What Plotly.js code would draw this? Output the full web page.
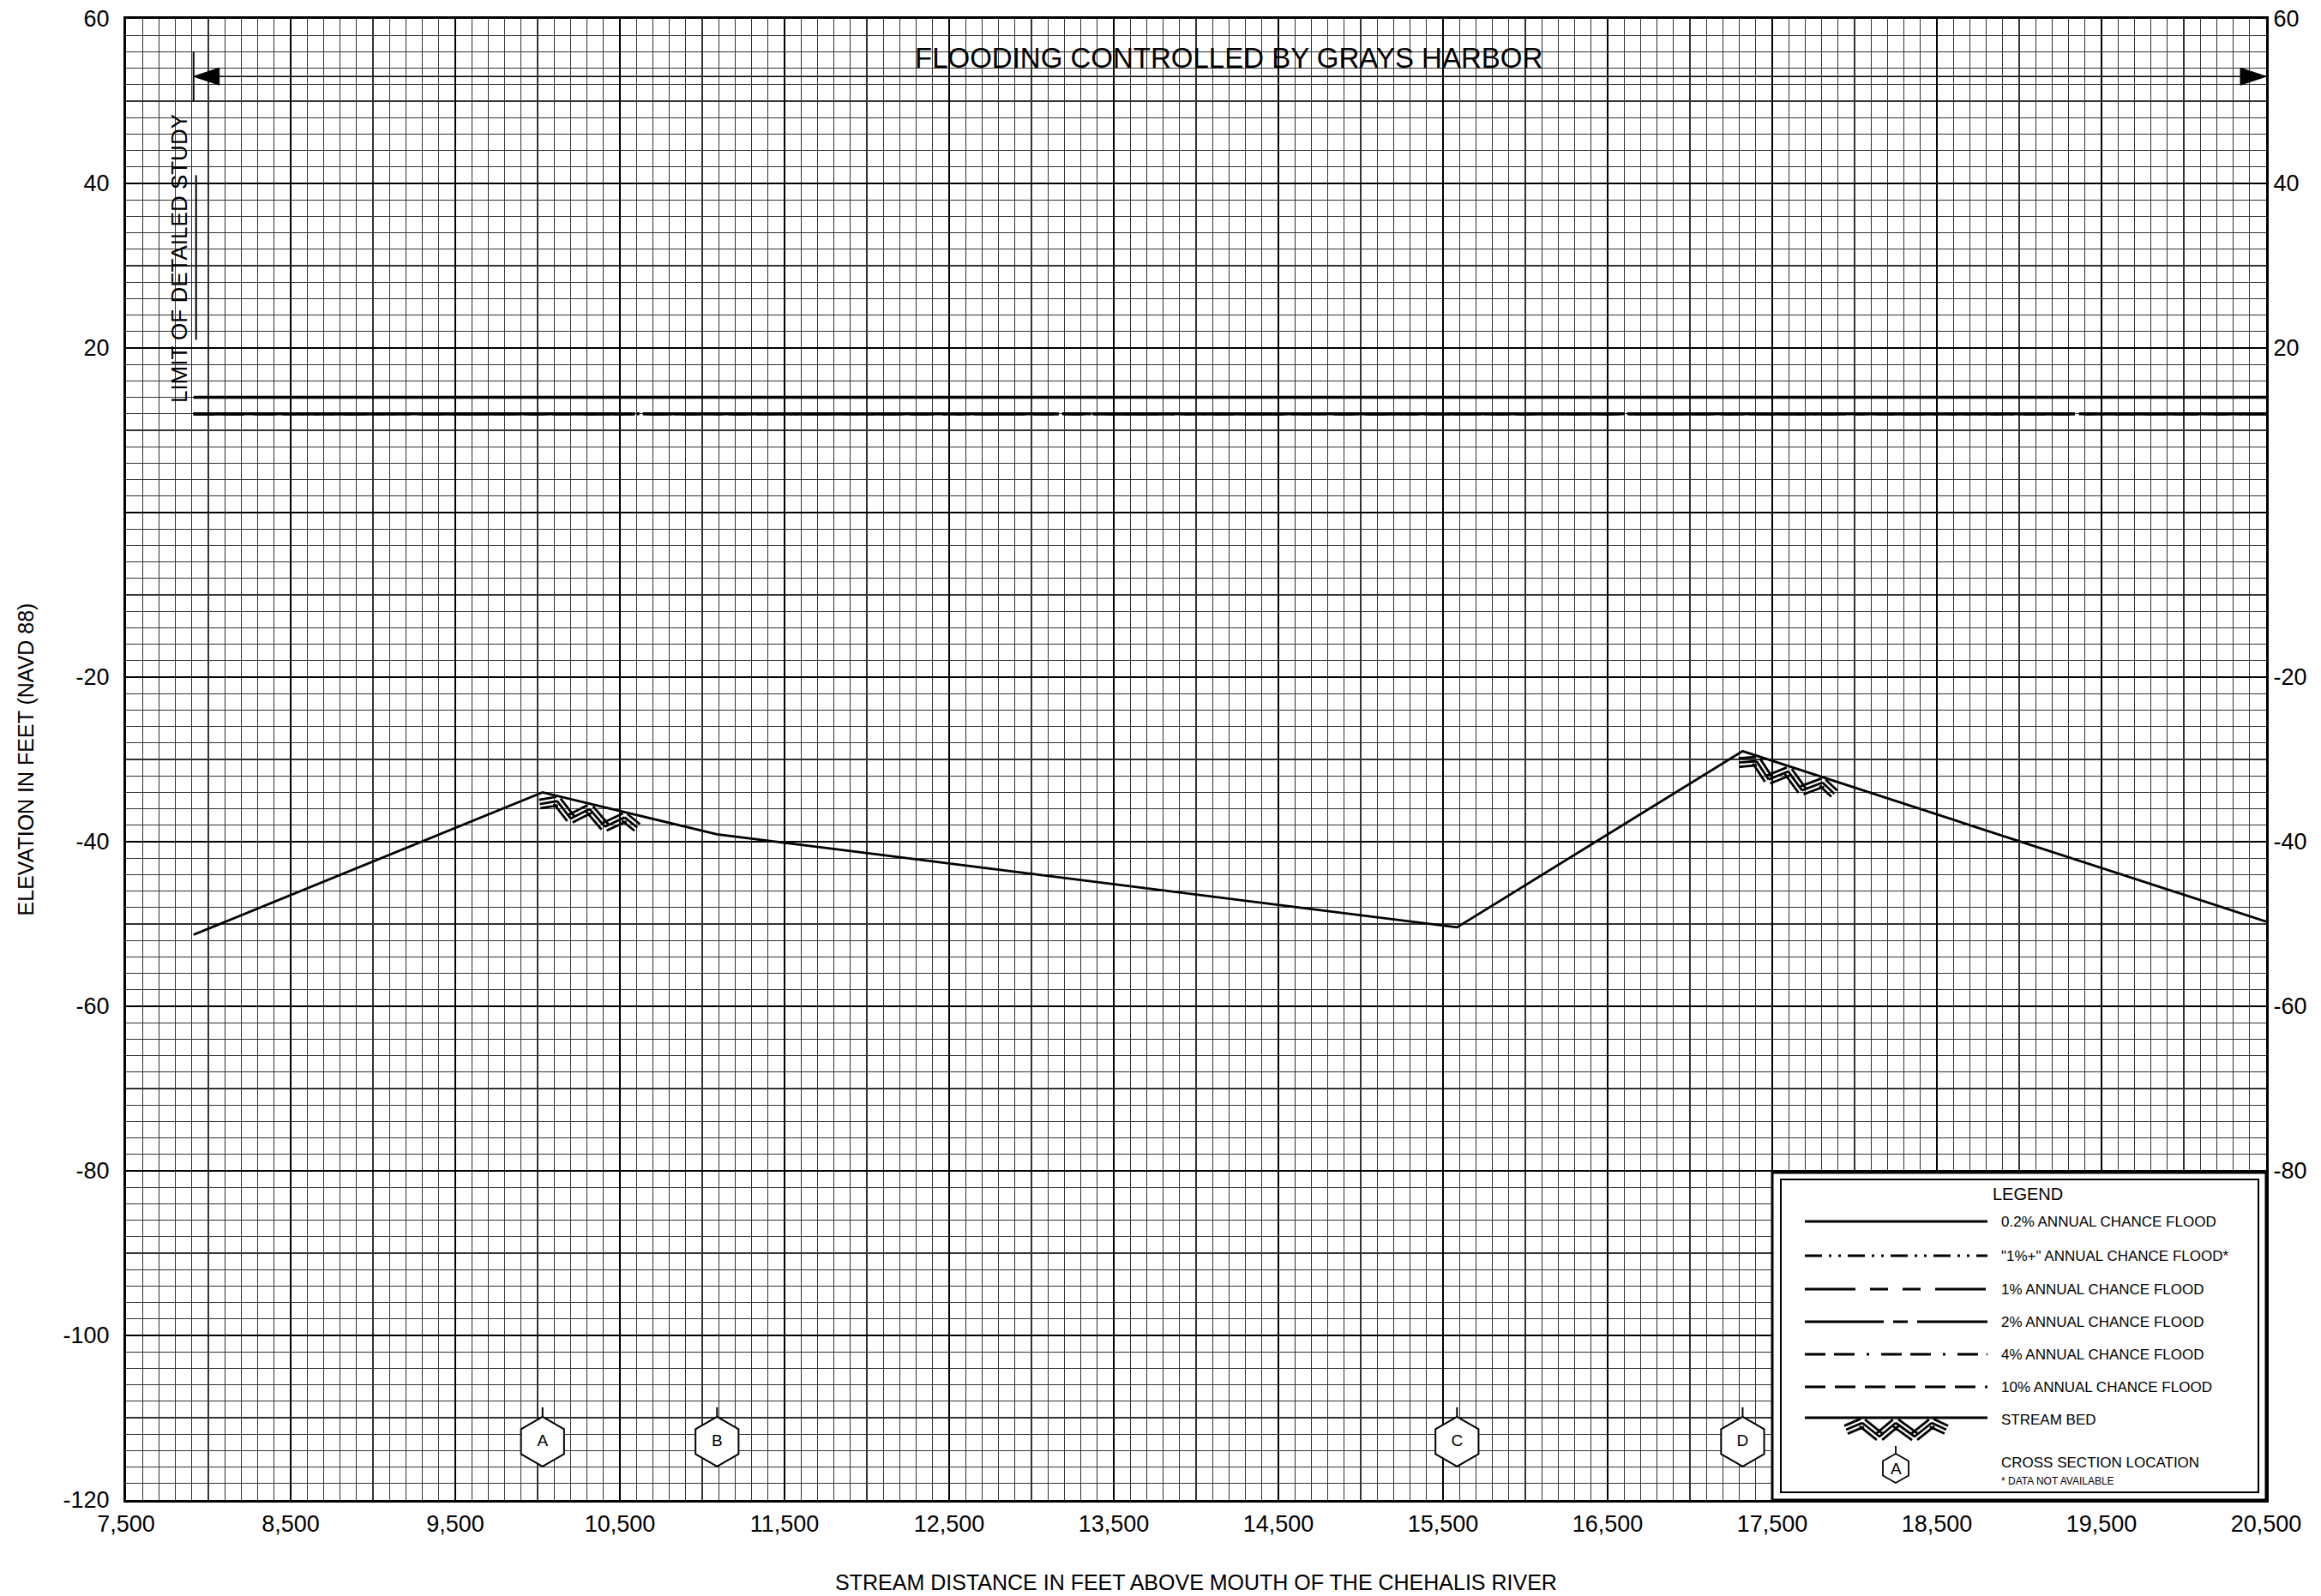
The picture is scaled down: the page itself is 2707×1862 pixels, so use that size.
<!DOCTYPE html>
<html><head><meta charset="utf-8">
<script src="https://cdn.plot.ly/plotly-3.0.1.min.js"></script>
<style>html,body{margin:0;padding:0;background:#fff}#chart{width:2707px;height:1862px}</style>
</head><body><div id="chart"></div>
<script>
// ---------------- DATA ----------------
const distanceTickVals = [7500, 8500, 9500, 10500, 11500, 12500, 13500, 14500, 15500, 16500, 17500, 18500, 19500, 20500];
const distanceTickText = ['7,500','8,500','9,500','10,500','11,500','12,500','13,500','14,500','15,500','16,500','17,500','18,500','19,500','20,500'];
const elevTickVals = [60, 40, 20, 0, -20, -40, -60, -80, -100, -120];
const elevTickText = ['60','40','20','','-20','-40','-60','-80','-100','-120'];
const rightElevTickVals = [60, 40, 20, -20, -40, -60, -80];
const rightElevTickText = ['60','40','20','-20','-40','-60','-80'];

const streamBedX = [7910, 10030, 11090, 15585, 17320, 20500];
const streamBedY = [-51.3, -34.0, -39.1, -50.4, -29.0, -49.7];

const crossSectionLabels = ['A', 'B', 'C', 'D'];
const crossSectionX = [10030, 11090, 15585, 17320];

const floodKeys = ['10%', '4%', '2%', '1%', '0.2%'];
const floodElev = [12, 12, 12, 12, 14];
const floodExtentX = [7910, 20500];

const harborExtentX = [7910, 20500];
const harborElev = [53, 53];
const harborLabel = 'FLOODING CONTROLLED BY GRAYS HARBOR';
const limitOfStudyX = 7910;
const limitLabel = 'LIMIT OF DETAILED STUDY';

const bedSymbolX = [10030, 17320];

const legendKeys = ['0.2%', '1%+', '1%', '2%', '4%', '10%'];
const legendLabels = ['0.2% ANNUAL CHANCE FLOOD', '"1%+" ANNUAL CHANCE FLOOD*', '1% ANNUAL CHANCE FLOOD',
  '2% ANNUAL CHANCE FLOOD', '4% ANNUAL CHANCE FLOOD', '10% ANNUAL CHANCE FLOOD'];

// ---------------- STYLE / GEOMETRY ----------------
const FONT = 'Liberation Sans, Arial, sans-serif';
const G = {W: 2707, H: 1862, L: 147, R: 2643, T: 22, B: 1750};
const xRange = [7500, 20500], yRange = [-120, 60];
const kx = (G.R - G.L) / (xRange[1] - xRange[0]);
const ky = (G.B - G.T) / (yRange[1] - yRange[0]);
const fx = px => (px - G.L) / (G.R - G.L);
const fy = py => (G.B - py) / (G.B - G.T);
const dashStyles = {
  '0.2%': 'solid',
  '1%+': '20px,8px,3px,8px,3px,8px',
  '1%': '59px,17px,21px,17px,21px,17px',
  '2%': '92px,11px,17px,11px',
  '4%': '24px,10px,24px,14px,3px,14px',
  '10%': '24px,11px'
};
const sectionMarkerElev = -112.9;

function interpBed(x) {
  for (let i = 0; i < streamBedX.length - 1; i++) {
    if (x >= streamBedX[i] && x <= streamBedX[i + 1]) {
      const t = (x - streamBedX[i]) / (streamBedX[i + 1] - streamBedX[i]);
      return streamBedY[i] + t * (streamBedY[i + 1] - streamBedY[i]);
    }
  }
  return streamBedY[streamBedY.length - 1];
}
function bedAngle(x) {
  let i = 0;
  while (i < streamBedX.length - 2 && x >= streamBedX[i + 1]) i++;
  const dx = (streamBedX[i + 1] - streamBedX[i]) * kx;
  const dy = (streamBedY[i + 1] - streamBedY[i]) * ky;
  return Math.atan2(dy, dx);
}
function zigzagPath(angle) {
  const us = [0, 19, 39, 58, 80, 100, 117], vs = [14, 6, 22, 6, 22, 6, 14];
  const dx = Math.cos(angle), dy = Math.sin(angle);
  const nx = dy, ny = -dx;
  const P = (u, v) => [u * dx + v * nx, u * dy + v * ny];
  let d = '';
  for (let i = 0; i < us.length - 1; i++) {
    const a = P(us[i], vs[i]), b = P(us[i + 1], vs[i + 1]);
    const sx = b[0] - a[0], sy = b[1] - a[1], len = Math.hypot(sx, sy);
    const ox = -sy / len, oy = sx / len;
    for (const k of [-5, 0, 5]) {
      d += 'M' + (a[0] + ox * k).toFixed(2) + ',' + (a[1] + oy * k).toFixed(2) +
           'L' + (b[0] + ox * k).toFixed(2) + ',' + (b[1] + oy * k).toFixed(2);
    }
  }
  return d;
}
function hexPath(hw, hh) {
  const s = hh / 2;
  return `M0,${hh}L${hw},${s}L${hw},${-s}L0,${-hh}L${-hw},${-s}L${-hw},${s}Z`;
}

// ---------------- TRACES ----------------
const traces = [];
floodKeys.forEach((k, i) => {
  traces.push({
    x: floodExtentX, y: [floodElev[i], floodElev[i]], mode: 'lines', name: k,
    line: {color: '#000', width: 3.5, dash: dashStyles[k]}, hoverinfo: 'skip'
  });
});
traces.push({
  x: streamBedX, y: streamBedY, mode: 'lines', name: 'STREAM BED',
  line: {color: '#000', width: 2.8}
});
traces.push({
  x: harborExtentX, y: harborElev, mode: 'lines', name: 'harbor',
  line: {color: '#000', width: 1.6}, hoverinfo: 'skip'
});
traces.push({
  x: crossSectionX, y: crossSectionX.map(() => sectionMarkerElev), mode: 'markers+text',
  text: crossSectionLabels, textposition: 'middle center',
  textfont: {family: FONT, size: 19, color: '#000'},
  marker: {symbol: 'hexagon', size: 58, color: '#fff', line: {color: '#000', width: 2}},
  cliponaxis: false, name: 'CROSS SECTION LOCATION'
});
traces.push({
  x: streamBedX, y: streamBedY, yaxis: 'y2', mode: 'lines',
  line: {color: 'rgba(0,0,0,0)', width: 0}, hoverinfo: 'skip', showlegend: false
});

// ---------------- SHAPES ----------------
const shapes = [];
crossSectionX.forEach(x => {
  shapes.push({type: 'line', xref: 'x', yref: 'y', x0: x, x1: x, ysizemode: 'pixel', yanchor: sectionMarkerElev,
    y0: 29, y1: 40, line: {color: '#000', width: 2}});
});
bedSymbolX.forEach(x => {
  shapes.push({type: 'path', xref: 'x', yref: 'y', xsizemode: 'pixel', ysizemode: 'pixel',
    xanchor: x, yanchor: interpBed(x), path: zigzagPath(bedAngle(x)), line: {color: '#000', width: 2.8}});
});
shapes.push({type: 'path', xref: 'x', yref: 'y', xsizemode: 'pixel', ysizemode: 'pixel',
  xanchor: harborExtentX[0], yanchor: harborElev[0], path: 'M0,0L30,10L30,-10Z',
  fillcolor: '#000', line: {color: '#000', width: 1}});
shapes.push({type: 'path', xref: 'x', yref: 'y', xsizemode: 'pixel', ysizemode: 'pixel',
  xanchor: harborExtentX[1], yanchor: harborElev[1], path: 'M0,0L-30,10L-30,-10Z',
  fillcolor: '#000', line: {color: '#000', width: 1}});
shapes.push({type: 'line', xref: 'x', yref: 'y', x0: limitOfStudyX, x1: limitOfStudyX, y0: 50, y1: 56,
  line: {color: '#000', width: 2}});
shapes.push({type: 'line', xref: 'x', yref: 'y', xsizemode: 'pixel', xanchor: limitOfStudyX, x0: 3, x1: 3,
  y0: 21, y1: 41, line: {color: '#000', width: 2}});

// legend box
shapes.push({type: 'rect', xref: 'paper', yref: 'paper', x0: fx(2067), x1: fx(2643), y0: fy(1750), y1: fy(1368),
  fillcolor: '#fff', line: {color: '#000', width: 3}});
shapes.push({type: 'rect', xref: 'paper', yref: 'paper', x0: fx(2077), x1: fx(2634), y0: fy(1741), y1: fy(1376),
  line: {color: '#000', width: 2}});
const legendRowY = [1425, 1465, 1504, 1542, 1580, 1618];
const annotations = [];
legendKeys.forEach((k, i) => {
  shapes.push({type: 'line', xref: 'paper', yref: 'paper', x0: fx(2105), x1: fx(2318),
    y0: fy(legendRowY[i]), y1: fy(legendRowY[i]), line: {color: '#000', width: 3, dash: dashStyles[k]}});
  annotations.push({xref: 'paper', yref: 'paper', x: fx(2332), y: fy(legendRowY[i]), xanchor: 'left', yanchor: 'middle',
    text: legendLabels[i], showarrow: false, font: {family: FONT, size: 17, color: '#000'}});
});
shapes.push({type: 'line', xref: 'paper', yref: 'paper', x0: fx(2105), x1: fx(2318), y0: fy(1654), y1: fy(1654),
  line: {color: '#000', width: 3}});
shapes.push({type: 'path', xref: 'paper', yref: 'paper', xsizemode: 'pixel', ysizemode: 'pixel',
  xanchor: fx(2153), yanchor: fy(1654), path: zigzagPath(0), line: {color: '#000', width: 2.8}});
annotations.push({xref: 'paper', yref: 'paper', x: fx(2332), y: fy(1656), xanchor: 'left', yanchor: 'middle',
  text: 'STREAM BED', showarrow: false, font: {family: FONT, size: 17, color: '#000'}});
shapes.push({type: 'path', xref: 'paper', yref: 'paper', xsizemode: 'pixel', ysizemode: 'pixel',
  xanchor: fx(2211), yanchor: fy(1713), path: hexPath(15, 17), fillcolor: '#fff', line: {color: '#000', width: 1.8}});
shapes.push({type: 'line', xref: 'paper', yref: 'paper', xsizemode: 'pixel', ysizemode: 'pixel',
  xanchor: fx(2211), yanchor: fy(1713), x0: 0, x1: 0, y0: 17, y1: 26, line: {color: '#000', width: 1.8}});
annotations.push({xref: 'paper', yref: 'paper', x: fx(2211), y: fy(1713), xanchor: 'center', yanchor: 'middle',
  text: crossSectionLabels[0], showarrow: false, font: {family: FONT, size: 19, color: '#000'}});
annotations.push({xref: 'paper', yref: 'paper', x: fx(2332), y: fy(1706), xanchor: 'left', yanchor: 'middle',
  text: 'CROSS SECTION LOCATION', showarrow: false, font: {family: FONT, size: 17, color: '#000'}});
annotations.push({xref: 'paper', yref: 'paper', x: fx(2332), y: fy(1728), xanchor: 'left', yanchor: 'middle',
  text: '* DATA NOT AVAILABLE', showarrow: false, font: {family: FONT, size: 12, color: '#000'}});
annotations.push({xref: 'paper', yref: 'paper', x: fx(2365), y: fy(1393), xanchor: 'center', yanchor: 'middle',
  text: 'LEGEND', showarrow: false, font: {family: FONT, size: 20, color: '#000'}});

annotations.push({xref: 'x', yref: 'y', x: 14200, y: 55.3, xanchor: 'center', yanchor: 'middle',
  text: harborLabel, showarrow: false, font: {family: FONT, size: 33, color: '#000'}});
annotations.push({xref: 'x', yref: 'y', x: limitOfStudyX, xshift: -16, y: 30.9, xanchor: 'center', yanchor: 'middle',
  textangle: -90, text: limitLabel, showarrow: false, font: {family: FONT, size: 26, color: '#000'}});

// ---------------- LAYOUT ----------------
const layout = {
  width: G.W, height: G.H,
  margin: {l: G.L, r: G.W - G.R, t: G.T, b: G.H - G.B, pad: 0},
  paper_bgcolor: '#fff', plot_bgcolor: '#fff',
  font: {family: FONT, color: '#000'},
  showlegend: false,
  xaxis: {
    range: xRange, tickmode: 'array', tickvals: distanceTickVals, ticktext: distanceTickText,
    tickfont: {family: FONT, size: 27, color: '#000'},
    ticks: 'outside', ticklen: 0, ticklabelstandoff: 2,
    showgrid: true, gridcolor: '#000', gridwidth: 2.6,
    minor: {tickmode: 'linear', tick0: 7500, dtick: 100, showgrid: true, gridcolor: '#333', gridwidth: 1.3},
    showline: true, linecolor: '#000', linewidth: 3, mirror: true, zeroline: false,
    title: {text: 'STREAM DISTANCE IN FEET ABOVE MOUTH OF THE CHEHALIS RIVER', font: {family: FONT, size: 25, color: '#000'}, standoff: 46}
  },
  yaxis: {
    range: yRange, tickmode: 'array', tickvals: elevTickVals, ticktext: elevTickText,
    tickfont: {family: FONT, size: 27, color: '#000'},
    ticks: 'outside', ticklen: 0, ticklabelstandoff: 11,
    showgrid: true, gridcolor: '#000', gridwidth: 2.6,
    minor: {tickmode: 'linear', tick0: 0, dtick: 2, showgrid: true, gridcolor: '#333', gridwidth: 1.3},
    showline: true, linecolor: '#000', linewidth: 3, mirror: true, zeroline: false,
    title: {text: 'ELEVATION IN FEET (NAVD 88)', font: {family: FONT, size: 25, color: '#000'}, standoff: 27}
  },
  yaxis2: {
    range: yRange, overlaying: 'y', side: 'right', tickmode: 'array', tickvals: rightElevTickVals, ticktext: rightElevTickText,
    tickfont: {family: FONT, size: 27, color: '#000'},
    ticks: 'outside', ticklen: 0, ticklabelstandoff: 2,
    showgrid: false, zeroline: false, showline: false
  },
  shapes: shapes,
  annotations: annotations
};

Plotly.newPlot('chart', traces, layout, {displayModeBar: false, staticPlot: true});
</script>
</body></html>
